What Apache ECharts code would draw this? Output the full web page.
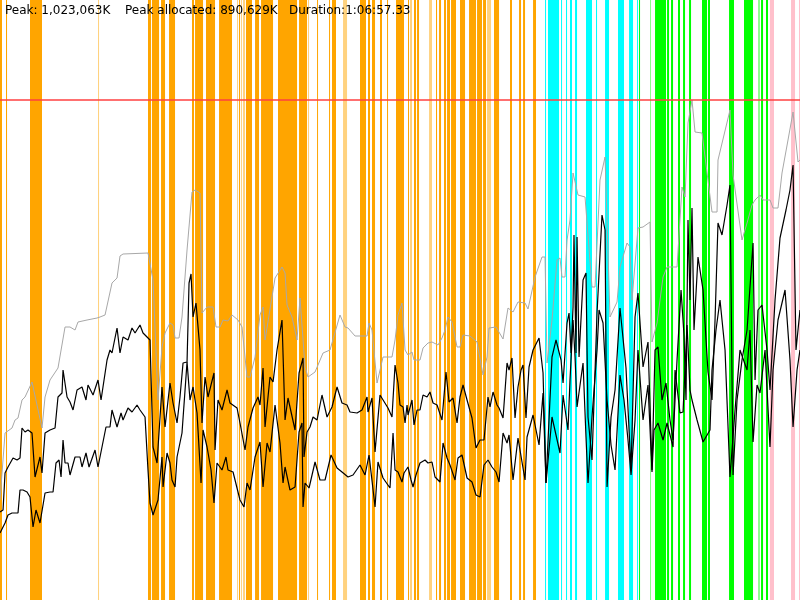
<!DOCTYPE html>
<html>
<head>
<meta charset="utf-8">
<script src="https://cdn.jsdelivr.net/npm/echarts@6/dist/echarts.min.js"></script>
<style>
html,body{margin:0;padding:0;background:#fff;}
#chart{width:800px;height:600px;}
</style>
</head>
<body>
<div id="chart"></div>
<script>
// Header values
const peakK = 1023063;          // = 100 % on the y axis
const peakAllocatedK = 890629;
const durationText = '1:06:57.33';

// x: % of run duration, y: % of peak memory
const usedMemory = [[0,20],[0.63,33.4],[1.5,34.4],[1.88,36],[2.25,36.4],[2.75,40],[3.13,40.6],[4,43.6],[4.13,43.6],[5.25,34.4],[5.63,40.6],[6.25,44],[7.25,46.4],[8.13,54.6],[8.75,54.6],[9.38,54],[9.75,55.6],[10.88,56],[12.13,56.4],[12.5,56.6],[13.13,57],[14,63.4],[14.63,64.4],[15,68.8],[15.38,69.2],[18.5,69.4],[18.75,69.4],[19.13,64],[19.75,40],[20.25,50.6],[20.63,53.4],[21.25,55.4],[21.63,55],[21.88,52.4],[22.38,52.4],[22.75,56.6],[23.38,70],[24,81.6],[24.38,82],[25,81.4],[25.25,57.4],[25.88,58.6],[26.63,58.6],[27,54.6],[27.5,54.6],[27.88,56],[28.5,55.8],[29,57],[29.75,56],[30.25,54.6],[30.88,44.6],[31.25,44.6],[31.88,48.6],[32.5,57],[32.88,58.6],[33.13,52],[34.38,64.4],[35.25,66.6],[35.63,65.4],[35.88,59],[36.5,56.6],[37.13,52],[37.5,60.4],[37.75,60.6],[38.13,46.6],[38.5,44.6],[39.38,45.6],[40.38,49.4],[41.25,50],[42.5,57],[43.13,54.6],[43.5,54.4],[44.38,52.8],[45.88,52.8],[46.13,55.4],[46.5,54],[47.13,43.4],[47.88,48.6],[49,48.6],[49.38,52],[49.75,57],[50.25,59.4],[50.63,50],[51,49],[51.5,49.6],[51.75,48],[52.5,48],[52.88,50.4],[53.5,51.4],[54,51.6],[54.75,51],[55.25,52.4],[55.63,54],[56,56.6],[56.5,55.6],[57.13,50.6],[57.5,50.6],[57.88,53],[58.75,52.8],[59.63,51.6],[60.38,45],[60.88,48.6],[61.13,54.4],[62,54.6],[62.88,52.2],[63.5,58.4],[64.13,57.6],[64.75,59.6],[65.63,59.4],[66,58.2],[66.25,58.6],[66.88,64.6],[67.75,68.6],[68.13,68.6],[68.38,47.4],[69,56],[69.63,68],[70,68.4],[70.25,64.6],[70.63,64.6],[70.88,72],[71.25,76],[71.63,85.4],[71.88,85],[72.25,81],[73.13,80.6],[74,62.6],[74.38,62.6],[75,84],[75.63,88.6],[75.88,88.6],[76.25,56.6],[77.13,59.6],[77.5,66.6],[78.38,71.4],[78.75,70.6],[79,60],[79.75,74.4],[80.38,74.6],[81.25,75.6],[81.5,51.6],[82.13,55.4],[82.88,64.6],[83.38,66.6],[84.63,66.6],[85.25,82.6],[85.63,80.6],[86,95.4],[86.5,100],[86.88,93.6],[87.75,93.4],[89,77.6],[89.63,77.6],[89.75,88],[91.25,98],[91.63,85],[92.75,72],[93.38,75.4],[94,79],[94.38,80],[95,81],[95.38,80],[96.25,80],[96.63,78.4],[97.25,78.4],[97.75,85.4],[98.5,92],[99.13,97.6],[99.75,87.6],[100,88]];

const heapUpper = [[0,17.6],[0.38,18],[0.63,25.4],[1,26.6],[1.63,28.4],[2.13,28],[2.5,28.4],[2.75,34.4],[3.13,33.6],[3.5,34],[4,33.4],[4.38,24.6],[5,28.6],[5.25,25.4],[5.63,33.4],[6.25,34],[6.88,34.4],[7.25,40.6],[7.75,41.4],[7.88,46],[8.38,40.6],[8.75,39.6],[9.13,38],[9.63,42],[10.25,42.6],[10.75,40],[11,43],[11.63,41],[12.25,44],[12.63,40],[13.38,48],[13.75,50],[14,49.4],[14.25,51.4],[14.63,54.4],[15,49.4],[15.38,52.6],[16,52],[16.5,54.4],[16.88,53.4],[17.5,55],[17.88,53.4],[18.75,52],[19.13,30.6],[19.63,27.4],[20.25,42.6],[20.63,34.6],[21.25,43.4],[21.63,39.4],[22.13,35.4],[22.5,40.6],[22.88,47.4],[23.38,47.6],[23.63,63.4],[23.88,65.2],[24.13,56.6],[24.5,59.4],[25,50],[25.25,35.4],[25.63,44.6],[26,40.6],[26.75,45.4],[26.88,30],[27.25,40],[27.75,38],[28.38,42],[28.75,39.4],[29.63,38.4],[30,35.4],[30.63,30],[31,34.6],[31.63,38.4],[32.25,40.6],[32.5,39],[32.88,46.4],[33.13,34.6],[33.75,44.6],[34.13,43.6],[34.63,50],[35.25,56],[35.63,36],[36,40.4],[36.88,34],[37.38,45.4],[37.88,48.4],[38,28.6],[38.38,33.6],[38.75,34.6],[39.13,36.6],[39.63,36],[40.25,41],[40.88,36.6],[41.5,38.6],[42.13,42.6],[42.75,39.4],[43.38,39],[43.75,37.6],[44.63,37.4],[45.25,38],[45.88,40.6],[46,37.6],[46.5,40.4],[46.88,29.6],[47.5,41],[48.5,38.4],[49,36.6],[49.38,47],[49.75,43.4],[50,39],[50.38,38.6],[50.63,35.4],[50.88,39],[51,37],[51.5,40],[51.75,35],[52.13,38],[52.5,38],[52.88,41],[53.38,40.6],[53.75,41.6],[54.13,39.4],[54.63,39],[55.25,36],[55.75,45.6],[56.13,39.6],[56.63,40.4],[57.13,35.4],[57.5,40.6],[57.88,43],[58.38,40],[59,36.4],[59.5,30.4],[60,32],[60.5,32],[61,40.6],[61.25,38.6],[61.63,41.6],[62.13,39],[62.38,38.4],[62.88,36.4],[63.38,47.4],[63.63,46],[64,48.4],[64.38,36.4],[64.75,42.6],[65.13,46],[65.38,47],[65.75,36.4],[66.13,46.6],[66.63,50],[67.38,52.4],[67.88,45.4],[68.25,23.4],[69,48.6],[69.5,52],[70.13,48],[70.38,43.4],[70.88,55.4],[71.13,57.4],[71.38,49.4],[71.63,58.6],[71.75,73],[72,49.4],[72.13,72.6],[72.38,48.6],[72.88,64],[73.25,65.4],[73.5,36.6],[74,28],[74.63,57.4],[75.25,77],[75.63,74],[75.88,22.6],[76.38,36.6],[76.88,42],[77.5,58.4],[78.25,46.4],[78.5,46.6],[78.88,26],[79.38,56.6],[79.75,61.4],[80.38,46.6],[81,51.6],[81.5,26],[81.88,50],[82.25,50.6],[82.75,40],[83.25,43.4],[83.75,36],[84.13,32],[84.63,48],[85.13,62],[85.5,53],[85.75,40],[86,76],[86.25,60],[86.5,78.4],[86.75,54],[87.25,68.6],[87.88,62],[88.5,45.6],[89,40],[89.38,56],[89.75,75.4],[90.25,73],[90.88,79],[91.25,83],[91.63,25],[92.13,40],[92.75,48],[93.38,54],[94.13,71.4],[94.38,44],[94.75,58],[95.25,59],[95.88,50],[96.25,42],[96.88,60],[97.5,72.4],[98.25,78],[98.75,82],[99.13,87],[99.5,50],[100,58]];

const heapLower = [[0,13.4],[0.25,13],[0.63,15.4],[1,17],[1.5,17.4],[2.25,17.4],[2.5,22],[2.88,22],[3.38,21.6],[3.75,20.6],[4.13,14.6],[4.5,18],[5,15.4],[5.63,21.4],[6.25,21.6],[6.63,21.6],[7,27.4],[7.38,28],[7.63,24.6],[7.88,32],[8.13,27.4],[8.5,27.4],[8.75,25],[9.38,28.6],[10,28.6],[10.25,26.6],[10.75,29.4],[11.13,26.6],[11.88,30],[12.25,26.6],[13.25,34.6],[13.75,34.6],[14,38],[14.63,34.6],[15.13,37.4],[15.38,36],[16,38.4],[16.5,37.6],[17.13,39],[17.5,38],[18.13,36.6],[18.5,26],[18.75,19.4],[19.13,17],[19.75,20],[20.25,28.6],[20.38,22.6],[20.88,29.4],[21.25,27.4],[21.5,24],[21.88,22.6],[22.13,28.6],[22.75,33.4],[23.38,47.6],[23.75,40],[24.13,42.6],[24.63,37.4],[25.13,23.4],[25.38,34],[25.88,30.6],[26.38,26],[26.75,19.4],[27.13,27.4],[27.75,26],[28.25,28.6],[28.5,26],[29.13,25.6],[30,20],[30.5,18.6],[30.88,23.4],[31.25,22],[31.88,28.6],[32.5,31.6],[32.88,22.6],[33.38,31.4],[33.75,29.6],[34.38,39],[35,31.4],[35.38,23.4],[35.63,26.6],[36.25,22],[36.88,22.6],[37.38,33.6],[37.75,35.4],[37.88,18.6],[38.13,23.4],[38.63,22.4],[39.38,27.6],[40,24],[40.63,24],[41.38,29],[42.13,26.4],[42.75,25.6],[43.5,24.6],[44.13,25],[45,27],[45.63,25],[46.13,29],[46.88,18.6],[47.25,27.6],[47.88,24.4],[48.75,22.4],[49.13,33.4],[49.38,26],[49.75,25.6],[50.25,23.6],[50.5,25.4],[51,26.6],[51.38,24],[51.63,22.6],[52,25],[52.5,27.4],[53.13,28],[53.5,27.4],[54,27.6],[54.38,24.6],[55,23.6],[55.38,31.4],[55.88,28.4],[56.25,27],[56.88,24],[57.25,28.4],[57.75,29],[58.38,24.4],[59,23.6],[59.5,21],[60,20.6],[60.5,27],[61,28],[61.5,26.6],[62,25.6],[62.38,23.6],[62.88,33.4],[63.38,31.4],[63.63,33],[64.13,24],[64.75,32.4],[65.25,27.6],[65.63,24],[65.88,32.6],[66.63,37],[67.38,31],[67.88,41.4],[68.25,23.4],[69,36.6],[70,29.4],[70.38,41],[71,34],[71.25,44],[71.63,56],[71.88,48.6],[72.13,38.6],[72.88,47.4],[73.25,32.6],[73.5,23.4],[74,36.6],[74.63,50],[74.88,58],[75.38,55.4],[75.88,40],[76.38,31],[76.88,26],[77.5,45],[78,40],[78.5,32],[78.88,25],[79.38,36],[79.75,50],[80.38,36],[81,43],[81.5,25.6],[81.75,34],[82.25,35.4],[82.88,32],[83.38,35.4],[84.13,30.6],[84.38,46],[85,37.4],[85.38,37.6],[85.88,55],[86.25,42],[86.5,40],[87.13,36],[87.88,31.6],[88.75,34],[89,46],[89.5,54],[90,60],[90.63,50],[91.25,24.6],[91.88,38],[92.5,50],[93.38,46],[93.75,54],[94.13,31.6],[94.63,43],[95,41.4],[95.63,50],[96.25,30.6],[96.63,46],[97.25,56],[98.13,62],[98.75,48],[99.13,34.6],[99.63,46],[100,50]];

// event spans [start %, end %]
const orangeSpans = [[0,0.25],[0.75,0.88],[3.75,5.25],[18.5,18.88],[19,19.88],[20.13,20.63],[21.13,21.88],[24,24.25],[24.38,25.38],[25.75,26.88],[27.38,29],[29.88,30],[30.75,31.5],[31.88,32.38],[32.63,34.13],[34.75,37.13],[37.38,38.38],[39.63,39.75],[41.13,41.25],[41.5,42],[45,45.75],[46,46.25],[46.5,46.88],[47.5,47.75],[48.38,48.5],[49.5,50.5],[51,51.13],[51.75,52],[52.13,52.38],[54.5,54.63],[54.88,55.13],[55.5,55.75],[55.88,56.25],[56.38,57],[57.5,58.13],[58.63,59.5],[59.63,60.25],[60.38,60.75],[61.75,62.38],[63.75,64],[64.88,65.13],[65.38,65.63],[66.63,67]];
const lightOrangeSpans = [[12.25,12.38],[29.63,29.75],[30.13,30.25],[30.38,30.63],[38.5,38.63],[42.88,43.38],[51.25,51.5],[53.63,54],[60.88,61.38]];
const cyanSpans = [[68.13,68.25],[68.5,69.88],[70.13,70.25],[70.75,70.88],[71.25,71.5],[71.88,72.13],[73.25,74],[74.5,74.63],[75.63,76.13],[77.25,78],[78.63,79.13],[79.63,79.75]];
const greenSpans = [[79.88,80],[81.88,83.25],[83.38,83.63],[83.88,84.13],[84.75,85],[85.38,85.63],[86.13,86.38],[87.75,88.38],[88.5,88.75],[91.13,91.75],[93,94.13],[95.13,95.38],[95.75,96]];
const lightGreenSpans = [[81.25,81.38],[94.75,95]];
const pinkSpans = [[96.25,96.75],[98.88,99.38],[99.88,100]];

const Y_MAX = 120;

function spanSeries(data, color, opacity) {
  return {
    type: 'custom', data: data, silent: true, z: 1,
    encode: {x: [0, 1]},
    renderItem: function (params, api) {
      const a = api.coord([api.value(0), Y_MAX]);
      const b = api.coord([api.value(1), 0]);
      return {type: 'rect',
        shape: {x: a[0], y: a[1], width: Math.max(b[0] - a[0], 1), height: b[1] - a[1]},
        style: {fill: color, opacity: opacity}};
    }
  };
}

const chart = echarts.init(document.getElementById('chart'), null, {renderer: 'canvas'});
chart.setOption({
  animation: false,
  backgroundColor: '#fff',
  grid: {left: 0, right: 0, top: 0, bottom: 0},
  xAxis: {type: 'value', min: 0, max: 100, show: false},
  yAxis: {type: 'value', min: 0, max: Y_MAX, show: false},
  series: [
    spanSeries(orangeSpans, '#FFA500', 1),
    spanSeries(lightOrangeSpans, '#FFA500', 0.5),
    spanSeries(cyanSpans, '#00FFFF', 1),
    spanSeries(greenSpans, '#00FF00', 1),
    spanSeries(lightGreenSpans, '#00FF00', 0.45),
    spanSeries(pinkSpans, '#FFC0CB', 1),
    {type: 'line', data: usedMemory, showSymbol: false, z: 3, silent: true,
     lineStyle: {color: '#a8a8a8', width: 1},
     markLine: {silent: true, symbol: 'none', label: {show: false}, z: 4,
       lineStyle: {color: '#ff4040', width: 1.5, type: 'solid'},
       data: [{yAxis: 100}]}},
    {type: 'line', data: heapUpper, showSymbol: false, z: 5, silent: true,
     lineStyle: {color: '#000', width: 1.2}},
    {type: 'line', data: heapLower, showSymbol: false, z: 5, silent: true,
     lineStyle: {color: '#000', width: 1.2}}
  ],
  graphic: [
    {type: 'text', left: 5, top: 5, z: 10, style: {text: 'Peak: ' + peakK.toLocaleString('en-US') + 'K', fill: '#000', font: '12px "DejaVu Sans"'}},
    {type: 'text', left: 125, top: 5, z: 10, style: {text: 'Peak allocated: ' + peakAllocatedK.toLocaleString('en-US') + 'K', fill: '#000', font: '12px "DejaVu Sans"'}},
    {type: 'text', left: 289, top: 5, z: 10, style: {text: 'Duration:' + durationText, fill: '#000', font: '12px "DejaVu Sans"'}}
  ]
});
</script>
</body>
</html>
